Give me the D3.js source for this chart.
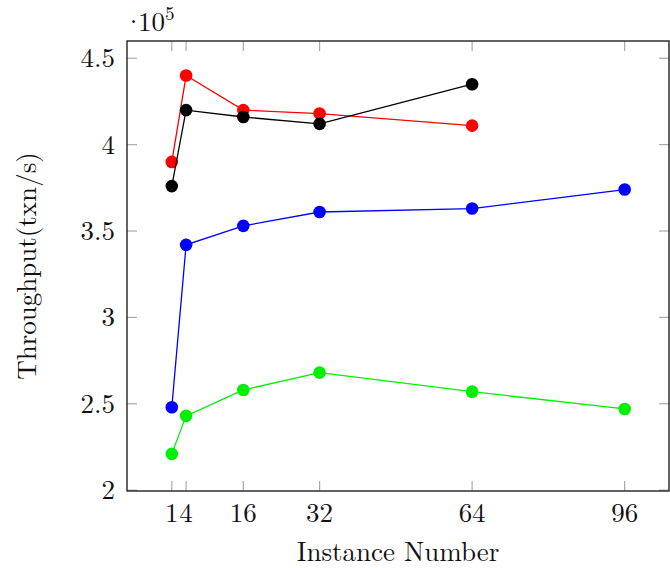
<!DOCTYPE html>
<html>
<head>
<meta charset="utf-8">
<script src="https://cdn.jsdelivr.net/npm/d3@7"></script>
<style>
  body { margin: 0; background: #fff; }
</style>
</head>
<body>
<svg id="chart" width="670" height="568"></svg>
<script>
// instance counts on the x axis
const xTicks = [1, 4, 16, 32, 64, 96]
const yTicks = [2, 2.5, 3, 3.5, 4, 4.5]

// throughput, in units of 10^5 txn/s
const redX = [1, 4, 16, 32, 64]
const redY = [3.90, 4.40, 4.20, 4.18, 4.11]
const blackX = [1, 4, 16, 32, 64]
const blackY = [3.76, 4.20, 4.16, 4.12, 4.35]
const blueX = [1, 4, 16, 32, 64, 96]
const blueY = [2.48, 3.42, 3.53, 3.61, 3.63, 3.74]
const greenX = [1, 4, 16, 32, 64, 96]
const greenY = [2.21, 2.43, 2.58, 2.68, 2.57, 2.47]

const series = [
    {color: '#ff0000', xs: redX, ys: redY},
    {color: '#000000', xs: blackX, ys: blackY},
    {color: '#0000ff', xs: blueX, ys: blueY},
    {color: '#00f000', xs: greenX, ys: greenY}
]

const FONT = '"Latin Modern Roman", "Liberation Serif", serif'
const plotLeft = 127, plotRight = 669, plotTop = 41, plotBottom = 491
const svg = d3.select('#chart')

const x = d3.scaleLinear().domain([-8.4, 105.3]).range([plotLeft, plotRight])
const y = d3.scaleLinear().domain([1.995, 4.6]).range([plotBottom, plotTop])

const label = (sel) => sel.style('font-family', FONT).attr('font-size', 27).attr('fill', '#111')

// inner tick marks on all four sides
const tickLen = 10
const tickColor = '#aaa'
xTicks.forEach(t => {
    svg.append('line').attr('x1', x(t)).attr('x2', x(t)).attr('y1', plotBottom).attr('y2', plotBottom - tickLen)
        .attr('stroke', tickColor).attr('stroke-width', 1.2)
    svg.append('line').attr('x1', x(t)).attr('x2', x(t)).attr('y1', plotTop).attr('y2', plotTop + tickLen)
        .attr('stroke', tickColor).attr('stroke-width', 1.2)
    svg.append('text').attr('x', x(t)).attr('y', 522).attr('text-anchor', 'middle')
        .call(label).text(t)
})
yTicks.forEach(t => {
    svg.append('line').attr('x1', plotLeft).attr('x2', plotLeft + tickLen).attr('y1', y(t)).attr('y2', y(t))
        .attr('stroke', tickColor).attr('stroke-width', 1.2)
    svg.append('line').attr('x1', plotRight).attr('x2', plotRight - tickLen).attr('y1', y(t)).attr('y2', y(t))
        .attr('stroke', tickColor).attr('stroke-width', 1.2)
    svg.append('text').attr('x', 115).attr('y', y(t) + 9).attr('text-anchor', 'end')
        .call(label).text(t === 2 || t === 3 || t === 4 ? t : t.toFixed(1))
})

// frame
svg.append('rect').attr('x', plotLeft).attr('y', plotTop).attr('width', plotRight - plotLeft).attr('height', plotBottom - plotTop)
    .attr('fill', 'none').attr('stroke', '#222').attr('stroke-width', 1.4)

const line = d3.line().x(d => x(d[0])).y(d => y(d[1]))

series.forEach(s => {
    const pts = s.xs.map((v, i) => [v, s.ys[i]])
    svg.append('path').datum(pts).attr('d', line)
        .attr('fill', 'none').attr('stroke', s.color).attr('stroke-width', 1.3)
    svg.selectAll(null).data(pts).enter().append('circle')
        .attr('cx', d => x(d[0])).attr('cy', d => y(d[1])).attr('r', 6.3)
        .attr('fill', s.color)
})

// scale note
const note = svg.append('text').attr('x', 123).attr('y', 31).call(label)
note.append('tspan').text('·')
note.append('tspan').attr('dx', -6).text('10')
note.append('tspan').attr('dy', -11).attr('font-size', 19).text('5')

svg.append('text').attr('x', 398).attr('y', 561).attr('text-anchor', 'middle')
    .call(label).text('Instance Number')

svg.append('text').attr('transform', 'translate(36,266) rotate(-90)').attr('text-anchor', 'middle')
    .call(label).text('Throughput(txn/s)')
</script>
</body>
</html>
